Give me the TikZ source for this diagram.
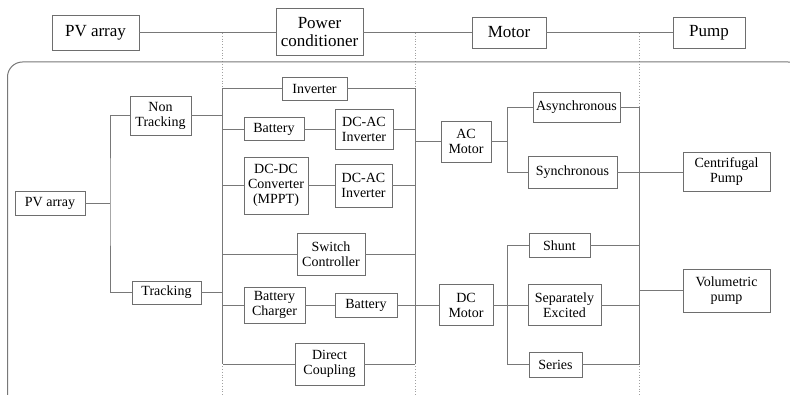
\documentclass[tikz,border=0pt]{standalone}
\usepackage{fontspec}
\setmainfont{Liberation Serif}
\newfontfamily\diagfont{Liberation Serif}
\definecolor{linec}{RGB}{120,120,120}
\definecolor{boxc}{RGB}{110,110,110}
\definecolor{dotc}{RGB}{160,160,160}
\begin{document}
\begin{tikzpicture}[x=1pt,y=-1pt,
  box/.style={draw=boxc, line width=0.9pt, fill=white, inner sep=0pt, align=center,
    font=\diagfont\fontsize{14}{15}\selectfont},
  tbox/.style={draw=boxc, line width=0.9pt, fill=white, inner sep=0pt, align=center,
    font=\diagfont\fontsize{17}{18}\selectfont},
  wire/.style={draw=linec, line width=0.9pt},
  dotline/.style={draw=dotc, dotted, line width=0.8pt},
  frame/.style={draw=linec, line width=1pt, rounded corners=15pt}]
\useasboundingbox (0,0) rectangle (790,395);
% bus x positions
\coordinate (b1) at (110,200);
\coordinate (b2) at (222.5,200);
\coordinate (b3) at (415,200);
\coordinate (b4) at (507,200);
\coordinate (b5) at (639,200);
\coordinate (d2t) at (222.5,33);
\coordinate (d2b) at (222.5,396);
\coordinate (d3t) at (415,33);
\coordinate (d3b) at (415,396);
\coordinate (d5t) at (639,33);
\coordinate (d5b) at (639,396);
\draw[dotline] (d2t) -- (d2b);
\draw[dotline] (d3t) -- (d3b);
\draw[dotline] (d5t) -- (d5b);
% frame
\coordinate (f1) at (7.5,62);
\coordinate (f2) at (803,410);
\draw[frame] (f1) rectangle (f2);
% top row
\node[tbox, minimum width=87pt, minimum height=35pt] (pvT) at (95.5,32.5) {PV array};
\node[tbox, minimum width=87pt, minimum height=47pt] (pc) at (319.5,32) {Power\\conditioner};
\node[tbox, minimum width=74pt, minimum height=31pt] (mot) at (509,32.5) {Motor};
\node[tbox, minimum width=72pt, minimum height=31pt] (pump) at (709,32.5) {Pump};
% inner nodes
\node[box, minimum width=70pt, minimum height=24pt] (pv) at (50,203) {PV array};
\node[box, minimum width=61pt, minimum height=39pt] (nt) at (160.5,115.5) {Non\\Tracking};
\node[box, minimum width=69pt, minimum height=23pt] (tr) at (166.5,292.5) {Tracking};
\node[box, minimum width=65pt, minimum height=23pt] (inv) at (314.5,88.5) {Inverter};
\node[box, minimum width=60pt, minimum height=23pt] (bat1) at (274,129) {Battery};
\node[box, minimum width=58pt, minimum height=40pt] (dcac1) at (364,129) {DC-AC\\Inverter};
\node[box, minimum width=64pt, minimum height=57pt] (dcdc) at (276,185.5) {DC-DC\\Converter\\(MPPT)};
\node[box, minimum width=57pt, minimum height=43pt] (dcac2) at (363.5,185.5) {DC-AC\\Inverter};
\node[box, minimum width=68pt, minimum height=42pt] (sw) at (331,254) {Switch\\Controller};
\node[box, minimum width=61pt, minimum height=36pt] (bch) at (274.5,305) {Battery\\Charger};
\node[box, minimum width=62pt, minimum height=24pt] (bat2) at (366,305) {Battery};
\node[box, minimum width=69pt, minimum height=42pt] (dcp) at (329.5,364) {Direct\\Coupling};
\node[box, minimum width=50pt, minimum height=41pt] (acm) at (466,141.5) {AC\\Motor};
\node[box, minimum width=54pt, minimum height=41pt] (dcm) at (466,305) {DC\\Motor};
\node[box, minimum width=87pt, minimum height=30pt] (async) at (576.5,107.5) {Asynchronous};
\node[box, minimum width=89pt, minimum height=32pt] (sync) at (572.5,172) {Synchronous};
\node[box, minimum width=61pt, minimum height=24pt] (shunt) at (559.5,245.5) {Shunt};
\node[box, minimum width=73pt, minimum height=41pt] (sep) at (564.5,305) {Separately\\Excited};
\node[box, minimum width=53pt, minimum height=25pt] (series) at (555.5,364.5) {Series};
\node[box, minimum width=87pt, minimum height=39pt] (cent) at (726.5,172) {Centrifugal\\Pump};
\node[box, minimum width=87pt, minimum height=43pt] (vol) at (726.5,290.5) {Volumetric\\pump};
% top connectors
\draw[wire] (pvT.east) -- (pvT.east -| pc.west);
\draw[wire] (pc.east |- mot.west) -- (mot.west);
\draw[wire] (mot.east) -- (pump.west);
% bus 1
\draw[wire] (pv.east) -- (pv.east -| b1);
\draw[wire] (nt.west) -| (b1) |- (tr.west);
% bus 2
\draw[wire] (inv.west -| b2) -- (dcp.west -| b2);
\draw[wire] (nt.east) -- (nt.east -| b2);
\draw[wire] (tr.east) -- (tr.east -| b2);
\draw[wire] (inv.west) -- (inv.west -| b2);
\draw[wire] (bat1.west) -- (bat1.west -| b2);
\draw[wire] (dcdc.west) -- (dcdc.west -| b2);
\draw[wire] (sw.west) -- (sw.west -| b2);
\draw[wire] (bch.west) -- (bch.west -| b2);
\draw[wire] (dcp.west) -- (dcp.west -| b2);
% chains in power conditioner
\draw[wire] (bat1.east) -- (bat1.east -| dcac1.west);
\draw[wire] (dcdc.east) -- (dcdc.east -| dcac2.west);
\draw[wire] (bch.east) -- (bch.east -| bat2.west);
% bus 3
\draw[wire] (inv.east -| b3) -- (dcp.east -| b3);
\draw[wire] (inv.east) -- (inv.east -| b3);
\draw[wire] (dcac1.east) -- (dcac1.east -| b3);
\draw[wire] (dcac2.east) -- (dcac2.east -| b3);
\draw[wire] (sw.east) -- (sw.east -| b3);
\draw[wire] (dcp.east) -- (dcp.east -| b3);
\draw[wire] (bat2.east) -- (bat2.east -| dcm.west);
\draw[wire] (acm.west -| b3) -- (acm.west);
% bus 4
\draw[wire] (acm.east) -- (acm.east -| b4);
\draw[wire] (async.west) -| (b4 |- sync.west) -- (sync.west);
\draw[wire] (shunt.west) -| (b4 |- series.west) -- (series.west);
\draw[wire] (dcm.east) -- (dcm.east -| sep.west);
% bus 5
\draw[wire] (async.east -| b5) -- (series.east -| b5);
\draw[wire] (async.east) -- (async.east -| b5);
\draw[wire] (sync.east) -- (sync.east -| cent.west);
\draw[wire] (shunt.east) -- (shunt.east -| b5);
\draw[wire] (sep.east) -- (sep.east -| b5);
\draw[wire] (series.east) -- (series.east -| b5);
\draw[wire] (vol.west -| b5) -- (vol.west);
\end{tikzpicture}
\end{document}
